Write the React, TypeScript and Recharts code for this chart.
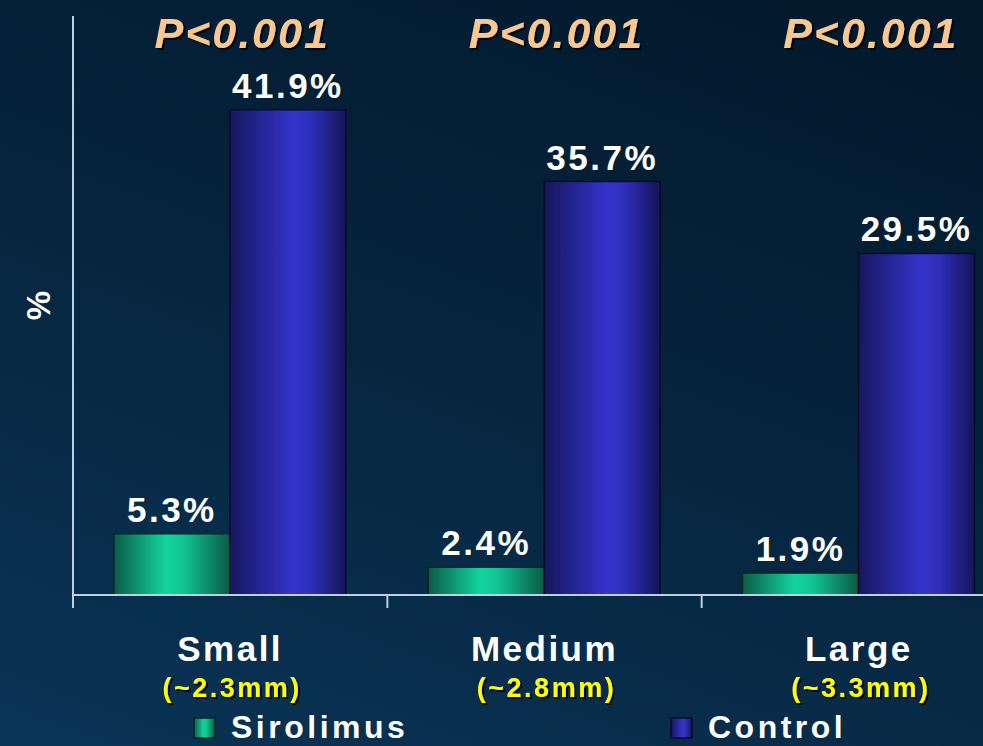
import React from 'react';
import { BarChart, Bar, XAxis, YAxis, LabelList } from 'recharts';

const sizes = ['Small', 'Medium', 'Large'];
const diameters = ['(~2.3mm)', '(~2.8mm)', '(~3.3mm)'];
const pValues = ['P<0.001', 'P<0.001', 'P<0.001'];
const sirolimus = [5.3, 2.4, 1.9];
const control = [41.9, 35.7, 29.5];

const data = sizes.map((size, i) => ({
  size,
  sirolimus: sirolimus[i],
  control: control[i],
}));

const FONT = '"Liberation Sans", Arial, Helvetica, sans-serif';
const AXIS = '#bcd0e4';

function Gradients() {
  return (
    <defs>
      <linearGradient id="sirolimusFill" x1="0" y1="0" x2="1" y2="0">
        <stop offset="0%" stopColor="#0a5c46" />
        <stop offset="45%" stopColor="#12d49f" />
        <stop offset="60%" stopColor="#11c493" />
        <stop offset="100%" stopColor="#0a5a45" />
      </linearGradient>
      <linearGradient id="controlFill" x1="0" y1="0" x2="1" y2="0">
        <stop offset="0%" stopColor="#17175e" />
        <stop offset="55%" stopColor="#3434cc" />
        <stop offset="70%" stopColor="#2e2eba" />
        <stop offset="100%" stopColor="#141456" />
      </linearGradient>
      <filter id="textShadow" x="-10%" y="-20%" width="130%" height="150%">
        <feDropShadow dx="2" dy="2" stdDeviation="0.6" floodColor="#000" floodOpacity="0.85" />
      </filter>
    </defs>
  );
}

// size name plus the approximate vessel diameter underneath;
// the short divider tick sits on the left edge of each band
function SizeTick(props: any) {
  const { x, y, payload } = props;
  const i = sizes.indexOf(payload.value);
  const half = payload.offset ?? 0;
  return (
    <g>
      {half > 0 && (
        <line x1={x - half} y1={y} x2={x - half} y2={y + 13} stroke={AXIS} strokeWidth={2} />
      )}
      <text x={x} y={y + 66} textAnchor="middle" fill="#ffffff" fontFamily={FONT}
        fontWeight="bold" fontSize={35} letterSpacing={2.5}>
        {payload.value}
      </text>
      <text x={x + 2} y={y + 102} textAnchor="middle" fill="#ffff00" fontFamily={FONT}
        fontWeight="bold" fontSize={27} letterSpacing={2.5} filter="url(#textShadow)">
        {diameters[i]}
      </text>
    </g>
  );
}

function PValueTick(props: any) {
  const { x, y, payload } = props;
  const i = sizes.indexOf(payload.value);
  return (
    <text x={x + 12} y={y + 32} textAnchor="middle" fill="#f8c88e" fontFamily={FONT}
      fontWeight="bold" fontStyle="italic" fontSize={43} letterSpacing={2}
      filter="url(#textShadow)">
      {pValues[i]}
    </text>
  );
}

const series = [
  { key: 'sirolimus', name: 'Sirolimus', fill: 'url(#sirolimusFill)', stroke: '#06281e', legendX: 194 },
  { key: 'control', name: 'Control', fill: 'url(#controlFill)', stroke: '#0a0a30', legendX: 671 },
];

export default function App() {
  return (
    <div
      style={{
        position: 'fixed',
        left: 0,
        top: 0,
        width: 983,
        height: 746,
        overflow: 'hidden',
        background: 'linear-gradient(200deg, #02182a 0%, #05223a 40%, #0a3456 100%)',
      }}
    >
      <BarChart
        width={1058}
        height={746}
        data={data}
        margin={{ top: 15, right: 42, left: 13, bottom: 150 }}
        barCategoryGap="13%"
        barGap={0}
      >
        <Gradients />
        <XAxis
          xAxisId="cat"
          dataKey="size"
          height={1}
          stroke={AXIS}
          strokeWidth={2}
          tickLine={false}
          tickSize={0}
          tickMargin={0}
          tick={<SizeTick />}
          interval={0}
        />
        <XAxis
          xAxisId="top"
          dataKey="size"
          orientation="top"
          height={1}
          axisLine={false}
          tickLine={false}
          tickSize={0}
          tickMargin={0}
          tick={<PValueTick />}
          interval={0}
        />
        <YAxis
          domain={[0, 50]}
          width={60}
          tick={false}
          tickLine={false}
          stroke={AXIS}
          strokeWidth={2}
          label={{
            value: '%',
            angle: -90,
            position: 'center',
            dx: -5,
            fill: '#ffffff',
            fontSize: 33,
            fontWeight: 'bold',
            fontFamily: FONT,
          }}
        />
        {series.map((s) => (
          <Bar
            key={s.key}
            xAxisId="cat"
            dataKey={s.key}
            name={s.name}
            fill={s.fill}
            stroke={s.stroke}
            strokeWidth={1.5}
            isAnimationActive={false}
          >
            <LabelList
              dataKey={s.key}
              position="top"
              offset={12}
              formatter={(v: any) => `${v}%`}
              fill="#ffffff"
              fontFamily={FONT}
              fontWeight="bold"
              fontSize={35}
              letterSpacing={2.5}
            />
          </Bar>
        ))}
      </BarChart>

      {/* legend row along the bottom */}
      <svg
        width={983}
        height={746}
        style={{ position: 'absolute', left: 0, top: 0, pointerEvents: 'none' }}
      >
        {series.map((s) => (
          <g key={s.key}>
            <rect x={s.legendX} y={718} width={21} height={20} fill={s.fill} stroke={s.stroke} strokeWidth={1.5} />
            <text x={s.legendX + 37} y={738} fill="#ffffff" fontFamily={FONT} fontWeight="bold"
              fontSize={32} letterSpacing={3.5}>
              {s.name}
            </text>
          </g>
        ))}
      </svg>
    </div>
  );
}
